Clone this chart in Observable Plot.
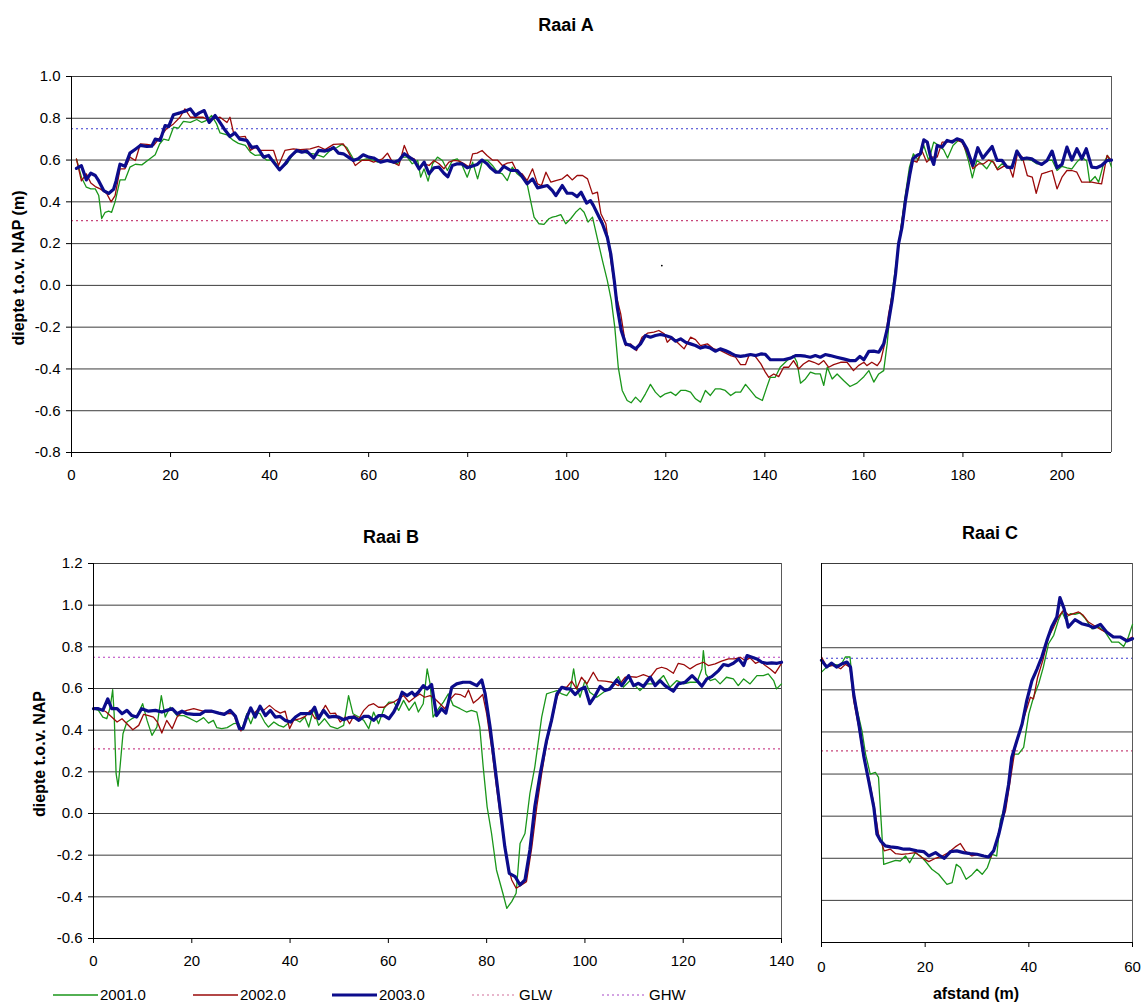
<!DOCTYPE html>
<html>
<head>
<meta charset="utf-8">
<script src="https://cdn.jsdelivr.net/npm/d3@7"></script>
<script src="https://cdn.jsdelivr.net/npm/@observablehq/plot@0.6"></script>
<style>
  body { margin: 0; background: #fff; font-family: 'Liberation Sans', Arial, sans-serif; }
  #page { position: relative; width: 1142px; height: 1004px; overflow: hidden; background: #fff; }
  .abs { position: absolute; }
  .lbl { position: absolute; white-space: nowrap; transform: translate(-50%, -50%); color: #000; }
  .title { font-weight: bold; font-size: 18px; }
  .axlbl { font-weight: bold; font-size: 16px; }
  .leg { position: absolute; font-size: 15px; color: #000; white-space: nowrap; }
</style>
</head>
<body>
<div id="page"></div>
<script>
// ---------- Profile data: [afstand (m), diepte t.o.v. NAP (m)] ----------

// Raai A
const raaiA2001 = [[1,0.605],[2,0.518],[3,0.47],[3.9,0.462],[4.8,0.462],[5.5,0.43],[6.1,0.32],[6.8,0.35],[7.5,0.355],[8.1,0.35],[8.8,0.40],[9.8,0.505],[10.8,0.505],[11.8,0.566],[12.9,0.58],[14.2,0.577],[15.5,0.60],[16.9,0.625],[17.8,0.677],[18.6,0.70],[19.6,0.694],[20.6,0.757],[21.6,0.753],[22.6,0.785],[24,0.78],[25.3,0.794],[26.3,0.78],[27.3,0.79],[28.3,0.813],[29.3,0.773],[30,0.73],[31.4,0.72],[32.7,0.694],[33.7,0.68],[35.1,0.67],[36.1,0.638],[37.1,0.622],[38.1,0.625],[39.4,0.60],[40.8,0.60],[42.1,0.558],[43.5,0.582],[44.8,0.63],[46.2,0.646],[47.5,0.633],[48.9,0.63],[49.9,0.622],[50.9,0.614],[52.2,0.646],[53.6,0.66],[54.6,0.675],[55.6,0.66],[56.9,0.606],[58.3,0.598],[59.6,0.606],[61,0.60],[61.8,0.59],[63.1,0.598],[64.5,0.59],[65.8,0.582],[66.8,0.614],[67.8,0.614],[68.8,0.582],[69.9,0.598],[70.5,0.518],[71.2,0.558],[72,0.499],[72.9,0.582],[73.9,0.614],[74.9,0.598],[75.9,0.55],[76.9,0.598],[77.9,0.606],[78.9,0.574],[79.9,0.518],[81,0.59],[82,0.51],[83,0.598],[84,0.598],[85,0.574],[86,0.542],[87,0.534],[88,0.502],[89,0.566],[90,0.534],[91,0.515],[92,0.486],[92.7,0.406],[93.4,0.327],[94.4,0.295],[95.4,0.292],[96.4,0.319],[97.1,0.327],[97.8,0.33],[98.8,0.339],[99.8,0.295],[100.8,0.319],[101.8,0.35],[102.7,0.37],[103.5,0.35],[104.3,0.303],[105.2,0.327],[106.2,0.223],[107.2,0.12],[108.2,0.023],[109,-0.072],[109.7,-0.2],[110.4,-0.391],[111.2,-0.503],[112.2,-0.551],[113,-0.562],[113.9,-0.535],[114.9,-0.559],[115.9,-0.519],[116.9,-0.474],[117.9,-0.511],[118.9,-0.535],[119.9,-0.519],[121,-0.511],[122,-0.527],[123,-0.503],[124,-0.503],[125,-0.511],[126,-0.543],[127,-0.559],[128,-0.503],[129,-0.527],[130,-0.495],[131,-0.495],[132,-0.503],[133.1,-0.527],[134.1,-0.511],[135.1,-0.511],[136.1,-0.474],[137.1,-0.503],[138.2,-0.535],[139.5,-0.551],[140.4,-0.487],[141.1,-0.44],[142.1,-0.44],[143.1,-0.392],[144.5,-0.36],[145.8,-0.336],[146.5,-0.368],[147.2,-0.468],[148.2,-0.448],[149.2,-0.415],[150.2,-0.424],[151.2,-0.424],[151.9,-0.479],[152.6,-0.392],[153.6,-0.448],[154.6,-0.424],[155.9,-0.455],[157.2,-0.484],[158.6,-0.468],[160,-0.437],[161,-0.408],[162,-0.463],[163,-0.424],[164,-0.408],[164.7,-0.28],[165.5,-0.072],[166.4,0.087],[167.4,0.263],[168.2,0.406],[169.2,0.566],[170,0.63],[171,0.60],[172.1,0.67],[173.1,0.598],[174.1,0.686],[175.1,0.67],[176.1,0.649],[176.9,0.61],[178,0.67],[179.2,0.697],[180.1,0.678],[181.1,0.598],[181.9,0.515],[182.8,0.598],[183.8,0.582],[184.8,0.558],[185.9,0.598],[186.9,0.558],[187.9,0.582],[188.9,0.563],[189.9,0.574],[190.9,0.646],[191.9,0.598],[192.9,0.606],[193.9,0.598],[194.9,0.582],[195.9,0.582],[197,0.598],[198,0.60],[199,0.55],[200,0.57],[201,0.563],[202,0.558],[203,0.59],[204,0.614],[205,0.595],[205.6,0.494],[206.7,0.521],[207.4,0.494],[208.4,0.582],[209.2,0.622],[210,0.566]];

const raaiA2002 = [[1,0.605],[2,0.5],[3,0.534],[3.9,0.49],[4.8,0.473],[5.8,0.462],[7.1,0.44],[8,0.40],[8.8,0.43],[9.8,0.558],[10.8,0.558],[11.8,0.614],[12.9,0.598],[13.9,0.677],[15.2,0.675],[16.6,0.67],[17.9,0.71],[19.2,0.75],[20.6,0.773],[21.9,0.805],[22.9,0.845],[24,0.805],[25.3,0.805],[26.6,0.805],[27.7,0.79],[28.7,0.797],[30,0.805],[31.4,0.78],[32,0.805],[32.7,0.733],[33.7,0.71],[35.1,0.713],[36.1,0.646],[37.1,0.66],[38.1,0.646],[39.4,0.646],[40.8,0.646],[41.8,0.574],[43.1,0.646],[44.8,0.654],[46.2,0.65],[48.2,0.654],[49.9,0.665],[51.2,0.65],[52.9,0.675],[54.9,0.677],[55.9,0.638],[57.3,0.574],[58.6,0.598],[60,0.6],[61,0.59],[62.8,0.606],[63.8,0.633],[64.8,0.59],[66.1,0.574],[67.2,0.67],[68.2,0.614],[69.2,0.606],[70.2,0.558],[71.2,0.582],[72.2,0.574],[73.2,0.598],[74.2,0.582],[75.2,0.558],[76.2,0.59],[77.3,0.598],[78.3,0.595],[79.3,0.582],[80.3,0.566],[81,0.63],[81.9,0.633],[82.9,0.646],[83.9,0.622],[85,0.6],[86,0.6],[87,0.574],[88,0.585],[89,0.59],[90,0.542],[91,0.534],[92,0.502],[93.1,0.558],[94.1,0.486],[94.9,0.478],[95.8,0.542],[96.8,0.494],[97.8,0.502],[99.1,0.51],[100.1,0.53],[101.1,0.505],[102.1,0.526],[103.2,0.526],[104.2,0.51],[105.2,0.438],[106.2,0.446],[106.9,0.343],[107.9,0.295],[108.9,0.12],[109.9,-0.04],[110.9,-0.136],[111.9,-0.288],[112.9,-0.28],[114.1,-0.312],[115.2,-0.248],[116.3,-0.229],[117.6,-0.224],[118.6,-0.216],[119.7,-0.232],[120.3,-0.272],[121.3,-0.248],[122.3,-0.272],[123.7,-0.304],[125,-0.248],[126,-0.26],[127,-0.288],[128.4,-0.28],[129.7,-0.304],[131.1,-0.312],[132.1,-0.324],[133.1,-0.336],[134.1,-0.344],[135.1,-0.379],[136.1,-0.379],[136.8,-0.336],[137.8,-0.331],[139.2,-0.376],[140.1,-0.415],[140.8,-0.44],[141.8,-0.424],[142.8,-0.437],[143.8,-0.392],[144.8,-0.392],[145.8,-0.36],[146.8,-0.40],[147.8,-0.376],[148.9,-0.36],[149.9,-0.368],[150.9,-0.379],[151.9,-0.36],[152.9,-0.392],[153.9,-0.379],[155.3,-0.368],[156.6,-0.368],[157.9,-0.408],[158.9,-0.384],[160,-0.368],[160.6,-0.384],[161.6,-0.368],[162.7,-0.384],[163.4,-0.36],[164.2,-0.28],[165,-0.136],[166,-0.009],[166.8,0.151],[167.7,0.311],[168.7,0.47],[169.7,0.598],[170.7,0.59],[171.7,0.646],[172.7,0.59],[173.7,0.614],[174.8,0.614],[175.8,0.686],[176.8,0.686],[177.8,0.694],[178.8,0.694],[179.8,0.686],[180.8,0.638],[182,0.558],[183.2,0.582],[184.2,0.582],[185.2,0.6],[186.2,0.59],[187,0.553],[188.2,0.57],[189.3,0.57],[190.1,0.518],[191,0.63],[192,0.614],[193,0.526],[194,0.518],[194.8,0.441],[195.9,0.534],[197,0.542],[198,0.55],[199,0.462],[200,0.518],[201,0.55],[202,0.55],[203,0.542],[204,0.494],[205,0.494],[206,0.494],[207,0.49],[208,0.486],[209.1,0.622],[210,0.598]];

const raaiA2003 = [[1,0.56],[2,0.573],[3,0.505],[3.9,0.537],[4.8,0.526],[5.5,0.50],[6.5,0.454],[7.5,0.44],[8.5,0.46],[9,0.5],[9.8,0.58],[10.8,0.57],[11.8,0.633],[12.9,0.652],[13.9,0.67],[15.2,0.665],[16.2,0.666],[16.9,0.70],[17.9,0.694],[18.9,0.765],[19.6,0.76],[20.6,0.817],[21.9,0.826],[22.9,0.834],[24,0.845],[25,0.813],[25.8,0.826],[26.8,0.837],[27.8,0.78],[29,0.813],[29.7,0.79],[30.8,0.75],[32,0.713],[33,0.73],[34,0.70],[35.4,0.694],[36.4,0.66],[37.4,0.665],[38.8,0.614],[39.8,0.622],[40.8,0.59],[42,0.553],[43.1,0.58],[44.1,0.614],[45.5,0.646],[46.5,0.638],[47.5,0.643],[48.9,0.61],[49.9,0.646],[51.2,0.643],[52.2,0.65],[52.9,0.66],[53.9,0.633],[54.9,0.63],[55.9,0.614],[56.9,0.598],[57.9,0.606],[58.9,0.625],[60,0.614],[61,0.61],[62.4,0.59],[63.8,0.598],[65.1,0.59],[66.1,0.598],[67.2,0.63],[68.2,0.614],[69.2,0.598],[70.2,0.558],[71.2,0.59],[72.2,0.534],[73.2,0.563],[74.2,0.566],[75.2,0.537],[76,0.52],[76.9,0.574],[77.9,0.582],[78.8,0.582],[79.9,0.563],[81.3,0.574],[81.9,0.579],[82.9,0.6],[83.9,0.582],[84.6,0.563],[85.7,0.542],[86.3,0.542],[87.3,0.57],[88.7,0.55],[90,0.55],[91,0.521],[92,0.486],[93.1,0.51],[94.1,0.467],[95.1,0.473],[96.1,0.478],[97.1,0.454],[97.8,0.43],[99.1,0.478],[100.1,0.441],[101.1,0.441],[102.1,0.425],[102.9,0.446],[104,0.394],[104.8,0.406],[105.4,0.382],[106.2,0.343],[107.2,0.295],[108.2,0.23],[108.9,0.15],[109.6,0.023],[110.2,-0.104],[111,-0.216],[111.9,-0.28],[112.9,-0.288],[113.9,-0.304],[114.9,-0.28],[115.9,-0.24],[116.9,-0.248],[117.9,-0.24],[118.9,-0.235],[119.9,-0.24],[121,-0.248],[122,-0.267],[123,-0.256],[124,-0.272],[125,-0.28],[126,-0.288],[127,-0.3],[128,-0.293],[129,-0.3],[130,-0.315],[131,-0.304],[132,-0.312],[133.1,-0.324],[134.1,-0.336],[135.1,-0.34],[136.1,-0.336],[137.1,-0.331],[138.2,-0.336],[139.2,-0.328],[140.1,-0.33],[141.1,-0.356],[142.5,-0.356],[143.8,-0.356],[145.2,-0.348],[146.2,-0.336],[147.2,-0.336],[148.2,-0.339],[149.2,-0.344],[150.2,-0.336],[151.2,-0.344],[152.2,-0.331],[153.2,-0.336],[154.5,-0.344],[155.9,-0.352],[157.2,-0.36],[158.3,-0.36],[159.2,-0.34],[160,-0.356],[161,-0.316],[162,-0.315],[163,-0.32],[164,-0.28],[164.8,-0.2],[165.7,-0.072],[166.4,0.055],[167,0.199],[167.7,0.279],[168.4,0.406],[169.3,0.534],[169.9,0.606],[170.7,0.622],[171.4,0.63],[172.1,0.697],[172.8,0.686],[173.4,0.622],[174.1,0.579],[174.8,0.67],[175.8,0.662],[176.8,0.694],[177.8,0.686],[178.8,0.702],[179.8,0.694],[180.8,0.654],[182,0.574],[183,0.659],[184,0.609],[184.8,0.633],[185.9,0.665],[186.9,0.598],[187.9,0.598],[188.9,0.566],[189.9,0.563],[190.9,0.643],[191.9,0.606],[192.9,0.61],[193.9,0.606],[194.9,0.59],[195.9,0.579],[197,0.598],[198,0.643],[199,0.563],[200,0.579],[201,0.662],[202,0.6],[203,0.654],[204,0.606],[204.9,0.654],[206,0.566],[207,0.563],[208,0.574],[209.1,0.598],[210,0.6]];

const raaiAStray = [[119.2, 0.095]];

// Raai B
const raaiB2001 = [[0,0.503],[1,0.495],[1.9,0.463],[2.7,0.455],[3.4,0.51],[3.9,0.594],[4.2,0.479],[4.6,0.191],[5,0.131],[5.4,0.223],[6,0.383],[6.8,0.439],[7.8,0.455],[8.8,0.466],[10,0.527],[10.9,0.447],[11.9,0.375],[12.9,0.415],[13.8,0.566],[14.6,0.463],[15.6,0.51],[17,0.47],[18.4,0.47],[19.7,0.455],[21,0.439],[22.4,0.46],[23.4,0.434],[24.4,0.447],[25.1,0.412],[26.1,0.407],[27.2,0.412],[28.5,0.431],[29.5,0.434],[30.2,0.399],[31.2,0.479],[32,0.431],[32.9,0.487],[33.9,0.479],[34.8,0.439],[35.6,0.415],[36.7,0.439],[37.7,0.423],[38.7,0.415],[39.7,0.434],[40.7,0.455],[42,0.439],[43,0.463],[43.8,0.415],[44.8,0.503],[45.8,0.423],[47,0.455],[48.2,0.418],[49.6,0.407],[50.9,0.423],[51.9,0.566],[52.8,0.479],[54,0.463],[55,0.447],[56,0.407],[57,0.487],[58,0.431],[59.1,0.503],[60.1,0.535],[61.1,0.535],[62.1,0.495],[63.1,0.543],[64.2,0.495],[65.4,0.535],[66.1,0.487],[67.1,0.527],[67.9,0.694],[68.5,0.622],[69.1,0.463],[70.2,0.503],[71.2,0.535],[72.2,0.574],[73.2,0.519],[74.6,0.503],[75.9,0.487],[76.9,0.495],[78,0.487],[78.6,0.415],[79.3,0.223],[80.1,0.032],[81,-0.096],[82,-0.271],[83.3,-0.383],[84.1,-0.455],[85.1,-0.423],[86,-0.383],[86.8,-0.144],[87.8,-0.096],[88.8,0.096],[89.8,0.223],[91.2,0.463],[92.2,0.574],[93.2,0.582],[94.3,0.59],[95.3,0.574],[96.3,0.566],[97,0.59],[97.7,0.694],[98.3,0.606],[99,0.558],[100,0.638],[101,0.582],[102.4,0.558],[103.8,0.582],[105.1,0.606],[106.8,0.657],[107.8,0.606],[109.2,0.638],[111.2,0.59],[112.6,0.622],[114.3,0.622],[116,0.662],[117.3,0.606],[118.7,0.638],[120.1,0.622],[121.4,0.63],[122.8,0.63],[123.8,0.694],[124.1,0.782],[124.6,0.67],[125.5,0.638],[126.5,0.646],[127.5,0.622],[128.8,0.654],[130.2,0.646],[131.2,0.614],[132.3,0.646],[133.6,0.622],[135,0.662],[136.3,0.662],[137.3,0.67],[138.4,0.638],[139,0.598],[140,0.622]];

const raaiB2002 = [[0,0.503],[1.4,0.503],[2.6,0.487],[3.7,0.463],[4.8,0.439],[5.8,0.455],[6.8,0.431],[8,0.402],[9.2,0.423],[10.2,0.476],[11.2,0.47],[12.2,0.463],[13,0.439],[13.9,0.386],[14.9,0.447],[16,0.407],[17,0.463],[18,0.487],[19,0.495],[20.4,0.503],[21.7,0.495],[23.1,0.487],[24.4,0.487],[25.8,0.482],[27.2,0.479],[28.5,0.479],[29.3,0.423],[30,0.396],[30.9,0.439],[31.8,0.503],[32.6,0.479],[33.6,0.503],[34.6,0.495],[35.8,0.519],[37,0.495],[38,0.482],[39,0.491],[39.9,0.407],[40.7,0.447],[42.1,0.455],[43.1,0.466],[44.1,0.495],[45.1,0.455],[46.2,0.479],[47.2,0.519],[48.2,0.479],[49.2,0.482],[50.2,0.439],[51.3,0.463],[52.1,0.431],[53,0.47],[54,0.455],[55,0.495],[56,0.519],[57,0.527],[58,0.51],[59.1,0.51],[60.1,0.527],[61.1,0.535],[62.1,0.55],[63.1,0.566],[64.2,0.535],[65.4,0.558],[66.4,0.574],[67.4,0.558],[68.5,0.566],[69.5,0.55],[70.5,0.527],[71.5,0.503],[72.5,0.546],[73.6,0.574],[74.6,0.571],[75.6,0.558],[76.3,0.593],[77.3,0.53],[78.3,0.55],[79.2,0.571],[80,0.479],[81,0.319],[82,0.128],[83.1,-0.064],[84.2,-0.239],[85.1,-0.319],[86,-0.359],[87.1,-0.343],[88.1,-0.327],[89.2,-0.16],[90.2,0.032],[91.2,0.191],[92.2,0.335],[93.2,0.439],[94.3,0.558],[95.3,0.606],[96.3,0.606],[97.3,0.635],[98.3,0.598],[99.3,0.654],[100.4,0.622],[101.7,0.678],[102.7,0.638],[104.1,0.635],[105.5,0.63],[106.8,0.614],[108.2,0.654],[109.2,0.657],[110.5,0.654],[111.9,0.667],[113.3,0.654],[114.6,0.694],[115.6,0.702],[116.7,0.694],[118,0.673],[119,0.721],[120.1,0.715],[121.4,0.694],[122.8,0.715],[124.1,0.726],[125.1,0.71],[126.5,0.718],[127.8,0.731],[129.2,0.742],[130.5,0.742],[131.6,0.75],[132.6,0.734],[133.6,0.747],[134.7,0.721],[135.7,0.731],[136.7,0.71],[137.7,0.694],[138.7,0.673],[140,0.721]];

const raaiB2003 = [[0,0.503],[1,0.503],[1.9,0.495],[2.9,0.55],[3.7,0.503],[4.8,0.503],[5.8,0.479],[6.8,0.495],[7.8,0.47],[8.8,0.463],[9.8,0.503],[11.2,0.491],[12.6,0.495],[13.9,0.487],[14.9,0.495],[16,0.503],[17,0.479],[18,0.491],[19,0.479],[20.4,0.476],[21.7,0.476],[22.7,0.491],[24.1,0.491],[25.5,0.482],[26.6,0.476],[27.8,0.495],[28.9,0.466],[29.7,0.407],[30.4,0.407],[31.2,0.463],[32,0.507],[32.9,0.463],[33.9,0.515],[35,0.47],[36,0.495],[37,0.463],[38,0.466],[39,0.447],[40.1,0.439],[41.1,0.463],[42.1,0.479],[43.1,0.479],[44.1,0.479],[45,0.51],[45.8,0.455],[46.8,0.495],[47.9,0.463],[48.9,0.466],[49.9,0.463],[50.9,0.45],[51.9,0.46],[53,0.463],[54,0.447],[55,0.466],[56,0.466],[57,0.447],[58,0.47],[59.1,0.47],[60.1,0.455],[61.1,0.487],[62.1,0.535],[62.8,0.582],[63.8,0.566],[64.8,0.582],[65.4,0.566],[66.1,0.582],[67.1,0.614],[67.9,0.598],[68.8,0.619],[69.8,0.47],[70.8,0.503],[71.7,0.482],[72.9,0.606],[73.9,0.622],[75.2,0.63],[76.6,0.63],[78,0.614],[79,0.641],[79.7,0.574],[80.7,0.415],[81.7,0.223],[82.7,0.032],[83.7,-0.16],[84.6,-0.287],[85.8,-0.303],[86.8,-0.343],[87.8,-0.319],[88.8,-0.175],[89.8,0.032],[90.9,0.191],[92.2,0.351],[93.2,0.447],[94.3,0.574],[95.3,0.606],[96.3,0.598],[97,0.598],[98,0.571],[99,0.595],[100,0.606],[101,0.527],[102.1,0.566],[103.1,0.61],[104.1,0.59],[105.1,0.598],[106.5,0.641],[107.5,0.614],[108.9,0.662],[109.9,0.614],[110.9,0.625],[111.9,0.61],[113.3,0.654],[114.3,0.614],[115.3,0.638],[116.3,0.614],[118,0.587],[119,0.622],[120.4,0.63],[121.8,0.662],[122.8,0.638],[123.8,0.611],[124.8,0.646],[125.8,0.657],[127.2,0.686],[128.2,0.715],[129.2,0.71],[130.2,0.721],[131.3,0.742],[132.3,0.71],[133,0.758],[134,0.75],[135,0.742],[136,0.726],[137,0.721],[138,0.723],[139.1,0.721],[140,0.726]];

// Raai C
const raaiC2001 = [[0,0.684],[1,0.708],[2.4,0.721],[3.7,0.716],[4.6,0.756],[5.5,0.756],[6.2,0.581],[7.2,0.47],[7.8,0.406],[8.5,0.295],[9.4,0.20],[10.4,0.208],[11,0.184],[11.5,-0.022],[12,-0.229],[13,-0.221],[14.3,-0.21],[15.2,-0.213],[16.2,-0.189],[17,-0.221],[18.1,-0.173],[19.1,-0.189],[20,-0.213],[21.3,-0.252],[22.6,-0.276],[24.2,-0.324],[25.2,-0.316],[26,-0.229],[26.8,-0.244],[27.9,-0.30],[29,-0.279],[30,-0.252],[31,-0.276],[32,-0.244],[32.9,-0.181],[33.8,-0.189],[34.5,-0.022],[35.3,0.041],[36.1,0.168],[37.1,0.295],[38,0.295],[39,0.327],[40,0.486],[40.9,0.565],[41.9,0.629],[42.8,0.708],[43.8,0.819],[44.8,0.859],[45.7,0.93],[46.4,0.97],[47,0.938],[48,0.962],[48.9,0.959],[49.9,0.965],[50.9,0.938],[52.2,0.89],[53.5,0.898],[54.7,0.875],[56,0.827],[57.3,0.827],[58.3,0.806],[59.2,0.851],[60,0.911]];

const raaiC2002 = [[0,0.756],[1,0.711],[2.4,0.716],[3.7,0.70],[4.6,0.721],[5.5,0.708],[6.2,0.549],[7.2,0.422],[8.2,0.271],[9.1,0.184],[10.1,0.057],[11,-0.086],[12.1,-0.165],[13.3,-0.157],[14.3,-0.178],[15.5,-0.181],[16.8,-0.178],[18.1,-0.173],[19.4,-0.197],[20.7,-0.216],[22,-0.2],[23.3,-0.189],[24.5,-0.173],[25.8,-0.146],[26.8,-0.13],[27.7,-0.165],[29,-0.189],[30.3,-0.181],[31.6,-0.189],[32.6,-0.197],[33.5,-0.149],[34.5,-0.046],[35.5,0.025],[36.4,0.168],[37.4,0.327],[38.3,0.406],[39.3,0.486],[40.3,0.565],[40.9,0.557],[41.7,0.66],[42.7,0.74],[43.8,0.851],[44.8,0.898],[45.7,0.946],[46.7,0.978],[47.7,0.954],[48.6,0.962],[49.6,0.97],[50.5,0.954],[51.5,0.922],[52.8,0.902],[54.1,0.883],[55.4,0.867],[56.6,0.851],[57.9,0.851],[58.9,0.838],[60,0.851]];

const raaiC2003 = [[0,0.74],[1,0.708],[1.9,0.727],[2.9,0.708],[4,0.724],[4.9,0.732],[5.6,0.708],[6.2,0.581],[7.2,0.438],[8.2,0.279],[9.1,0.168],[10.1,0.041],[10.7,-0.086],[11.4,-0.117],[12.3,-0.141],[13.3,-0.146],[14.6,-0.149],[15.9,-0.157],[17.1,-0.157],[18.4,-0.165],[19.7,-0.168],[20.7,-0.189],[22,-0.173],[22.9,-0.189],[23.7,-0.2],[24.9,-0.168],[26.1,-0.165],[27.4,-0.173],[28.7,-0.178],[30,-0.181],[31.3,-0.189],[32.2,-0.194],[33.2,-0.165],[34.2,-0.086],[35.1,0.01],[36.1,0.152],[36.7,0.279],[37.7,0.359],[38.7,0.438],[39.6,0.549],[40.6,0.644],[41.6,0.70],[42.5,0.756],[43.5,0.835],[44.4,0.898],[45.4,0.946],[46,1.038],[46.8,0.986],[47.6,0.898],[48.9,0.933],[50.2,0.914],[51.5,0.906],[52.5,0.895],[53.8,0.911],[55,0.875],[56.3,0.851],[57.6,0.851],[58.9,0.832],[60,0.843]];

// Tidal reference levels (m t.o.v. NAP)
const levelNames = ["GLW", "GHW"];
const levelValues = [0.31, 0.75];

// Series and axis tick labels
const yearLabels = ["2001.0", "2002.0", "2003.0"];
const xTicksA = [0, 20, 40, 60, 80, 100, 120, 140, 160, 180, 200];
const yTicksA = [-0.8, -0.6, -0.4, -0.2, 0, 0.2, 0.4, 0.6, 0.8, 1.0];
const xTicksB = [0, 20, 40, 60, 80, 100, 120, 140];
const yTicksB = [-0.6, -0.4, -0.2, 0, 0.2, 0.4, 0.6, 0.8, 1.0, 1.2];
const xTicksC = [0, 20, 40, 60];
const yTicksC = yTicksB;

// ---------- Styling ----------
const FONT = "'Liberation Sans', Arial, sans-serif";
const yearStyle = [
  {stroke: "#1a961a", strokeWidth: 1.3},
  {stroke: "#9a0a0a", strokeWidth: 1.3},
  {stroke: "#0c0c8c", strokeWidth: 3.2}
];
const gridColor = "#3c3c3c";
const frameColor = "#5a5a5a";

const page = document.getElementById("page");

function place(node, left, top) {
  const wrap = document.createElement("div");
  wrap.className = "abs";
  wrap.style.left = left + "px";
  wrap.style.top = top + "px";
  wrap.appendChild(node);
  page.appendChild(wrap);
}

function label(text, cx, cy, cls, rotate) {
  const d = document.createElement("div");
  d.className = "lbl " + cls;
  d.textContent = text;
  d.style.left = cx + "px";
  d.style.top = cy + "px";
  if (rotate) d.style.transform = "translate(-50%, -50%) rotate(-90deg)";
  page.appendChild(d);
}

function panel(opts) {
  const {width, height, margin, xDomain, xTicks, yDomain, yTicks, showYLabels,
         series, levelColors, xPad, extra = []} = opts;
  const [x0, x1] = xDomain;
  const [y0, y1] = yDomain;
  return Plot.plot({
    width, height,
    marginTop: margin[0], marginRight: margin[1], marginBottom: margin[2], marginLeft: margin[3],
    style: {fontFamily: FONT, fontSize: "15px", color: "#000", background: "transparent", overflow: "visible"},
    x: {domain: xDomain, ticks: xTicks, tickSize: 5, tickPadding: xPad, tickFormat: d => String(d), label: null},
    y: showYLabels
      ? {domain: yDomain, ticks: yTicks, tickSize: 5, tickPadding: 6, tickFormat: d => d.toFixed(1), label: null}
      : {domain: yDomain, axis: null},
    marks: [
      // horizontal gridlines
      Plot.ruleY(yTicks, {stroke: gridColor, strokeWidth: 1}),
      // plot-area frame on the right
      Plot.ruleX([x1], {stroke: frameColor, strokeWidth: 1}),
      // GLW / GHW reference levels
      ...levelValues.map((v, i) => Plot.ruleY([v], {stroke: levelColors[i], strokeWidth: 1.1, strokeDasharray: "2,3"})),
      // profiles per survey year
      ...series.map((s, i) => Plot.line(s, {x: d => d[0], y: d => d[1], ...yearStyle[i], strokeLinejoin: "round"})),
      ...extra,
      // axis lines
      Plot.ruleX([x0], {stroke: "#000", strokeWidth: 1}),
      Plot.ruleY([y0], {stroke: "#000", strokeWidth: 1})
    ]
  });
}

// Raai A
place(panel({
  width: 1142, height: 460, margin: [36, 31, 48, 71],
  xDomain: [0, 210], xTicks: xTicksA, yDomain: [-0.8, 1.0], yTicks: yTicksA,
  showYLabels: true, xPad: 12,
  series: [raaiA2001, raaiA2002, raaiA2003],
  levelColors: ["#c8467a", "#3a3ad0"],
  extra: [Plot.dot(raaiAStray, {x: d => d[0], y: d => d[1], r: 0.9, fill: "#000", stroke: null})]
}), 0, 40);

// Raai B
place(panel({
  width: 800, height: 450, margin: [33, 19, 42, 93],
  xDomain: [0, 140], xTicks: xTicksB, yDomain: [-0.6, 1.2], yTicks: yTicksB,
  showYLabels: true, xPad: 12,
  series: [raaiB2001, raaiB2002, raaiB2003],
  levelColors: ["#cc4a90", "#b83cc0"]
}), 0, 530);

// Raai C
place(panel({
  width: 342, height: 450, margin: [33, 10, 38, 21],
  xDomain: [0, 60], xTicks: xTicksC, yDomain: [-0.6, 1.2], yTicks: yTicksC,
  showYLabels: false, xPad: 14,
  series: [raaiC2001, raaiC2002, raaiC2003],
  levelColors: ["#c8467a", "#3a3ad0"]
}), 800, 530);

// Titles and axis labels
label("Raai A", 566, 25, "title");
label("Raai B", 391, 537, "title");
label("Raai C", 990, 533, "title");
label("diepte t.o.v. NAP (m)", 19, 268, "axlbl", true);
label("diepte t.o.v. NAP", 40, 754, "axlbl", true);
label("afstand (m)", 976, 994, "axlbl");

// Legend
const legendEntries = [
  ...yearLabels.map((t, i) => ({text: t, ...yearStyle[i], dash: null})),
  {text: levelNames[0], stroke: "#d26e9a", strokeWidth: 1.1, dash: "2,3"},
  {text: levelNames[1], stroke: "#a848c8", strokeWidth: 1.1, dash: "2,3"}
];
const legendX = [53, 193, 332, 472, 602];
const legendY = 995;
legendEntries.forEach((e, i) => {
  const svg = d3.create("svg").attr("width", 46).attr("height", 8)
    .style("position", "absolute").style("left", legendX[i] + "px").style("top", (legendY - 4) + "px");
  svg.append("line").attr("x1", 0).attr("x2", 45).attr("y1", 4).attr("y2", 4)
    .attr("stroke", e.stroke).attr("stroke-width", e.strokeWidth)
    .attr("stroke-dasharray", e.dash);
  page.appendChild(svg.node());
  const t = document.createElement("div");
  t.className = "leg";
  t.textContent = e.text;
  t.style.left = (legendX[i] + 47) + "px";
  t.style.top = (legendY - 9) + "px";
  t.style.lineHeight = "18px";
  page.appendChild(t);
});
</script>
</body>
</html>
